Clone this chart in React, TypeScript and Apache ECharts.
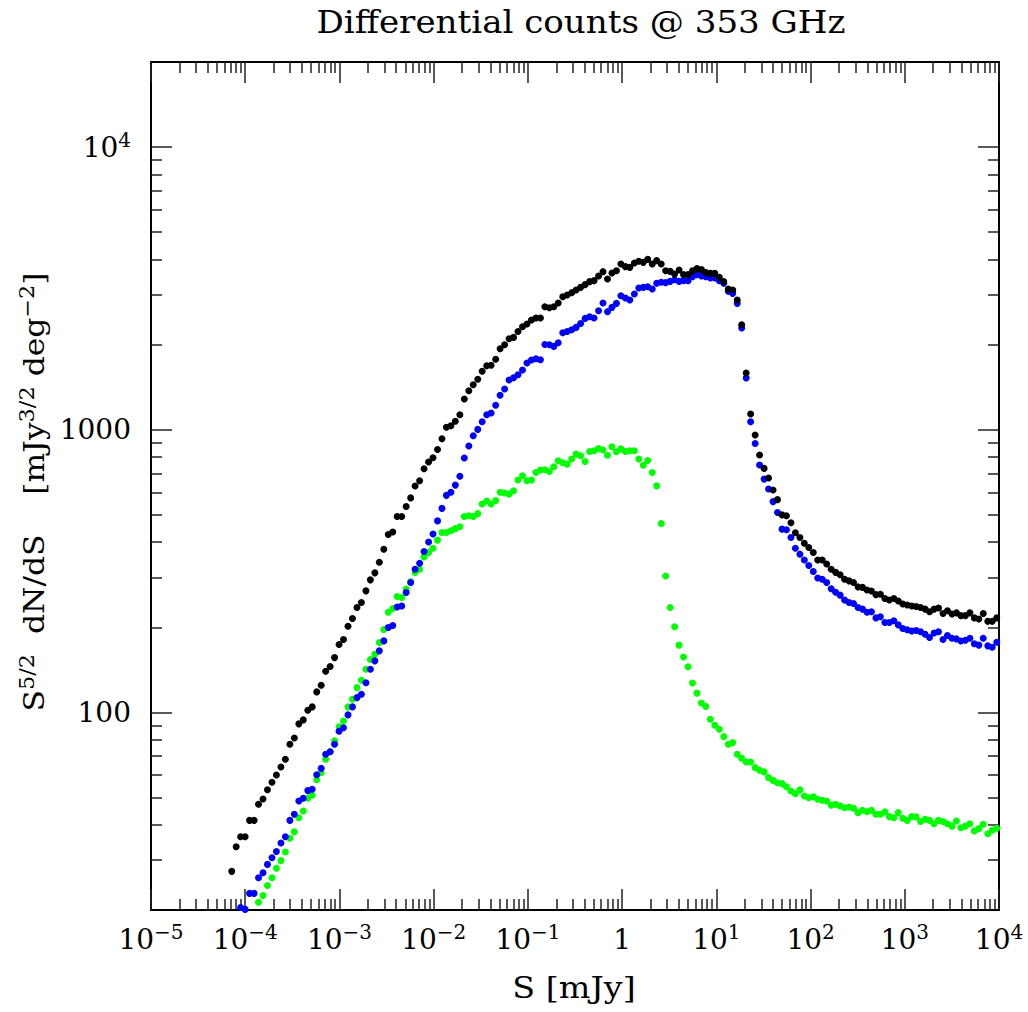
import React, { useEffect, useRef } from 'react';
import * as echarts from 'echarts';

const FONT = 'DejaVu Serif';
const X_MIN = 1e-5;
const X_MAX = 1e4;
const Y_MIN = 20;
const Y_MAX = 2e4;

// log10 of flux-density bin centres [mJy]
const logS = [
  -4.143, -4.096, -4.049, -4.001, -3.954, -3.906, -3.859, -3.811, -3.764, -3.716,
  -3.669, -3.621, -3.574, -3.526, -3.479, -3.431, -3.384, -3.336, -3.289, -3.241,
  -3.194, -3.146, -3.099, -3.052, -3.004, -2.957, -2.909, -2.862, -2.814, -2.767,
  -2.719, -2.672, -2.624, -2.577, -2.529, -2.482, -2.434, -2.387, -2.339, -2.292,
  -2.244, -2.197, -2.149, -2.102, -2.054, -2.007, -1.959, -1.912, -1.865, -1.817,
  -1.770, -1.722, -1.675, -1.627, -1.580, -1.532, -1.485, -1.437, -1.390, -1.342,
  -1.295, -1.247, -1.200, -1.152, -1.105, -1.057, -1.010, -0.962, -0.915, -0.867,
  -0.820, -0.772, -0.725, -0.678, -0.630, -0.583, -0.535, -0.488, -0.440, -0.393,
  -0.345, -0.298, -0.250, -0.203, -0.155, -0.108, -0.060, -0.013, 0.035, 0.082,
  0.130, 0.177, 0.225, 0.272, 0.320, 0.367, 0.415, 0.462, 0.510, 0.557,
  0.605, 0.652, 0.700, 0.747, 0.794, 0.842, 0.889, 0.937, 0.984, 1.032,
  1.079, 1.127, 1.174, 1.222, 1.269, 1.317, 1.364, 1.412, 1.459, 1.507,
  1.554, 1.602, 1.649, 1.697, 1.744, 1.792, 1.839, 1.887, 1.934, 1.981,
  2.029, 2.076, 2.124, 2.171, 2.219, 2.266, 2.314, 2.361, 2.409, 2.456,
  2.504, 2.551, 2.599, 2.646, 2.694, 2.741, 2.789, 2.836, 2.884, 2.931,
  2.979, 3.026, 3.074, 3.121, 3.168, 3.216, 3.263, 3.311, 3.358, 3.406,
  3.453, 3.501, 3.548, 3.596, 3.643, 3.691, 3.738, 3.786, 3.833, 3.881,
  3.928, 3.976,
];

// S^{5/2} dN/dS, black points (all bins)
const blackCounts = [
  27.4, 33.5, 36.3, 36.3, 41.5, 41.5, 47.3, 49.4, 53.3, 56.6,
  60.1, 64.1, 68.3, 77.2, 81.2, 91.1, 94.1, 101.8, 104.6, 118.2,
  124.8, 139.9, 145.3, 156.3, 173.8, 181, 201.9, 214.8, 235, 244.7,
  269.2, 294.4, 311.7, 340, 378, 426, 435, 493, 493, 535,
  574, 632, 660, 728, 769, 796, 852, 929, 1020, 1033,
  1072, 1130, 1284, 1374, 1443, 1510, 1611, 1685, 1692, 1776,
  1935, 2000, 2099, 2122, 2228, 2315, 2367, 2446, 2486, 2486,
  2725, 2703, 2725, 2809, 2957, 2998, 3055, 3123, 3190, 3261,
  3342, 3369, 3500, 3625, 3416, 3587, 3654, 3860, 3776, 3754,
  3891, 3943, 3910, 4007, 3860, 3965, 3860, 3654, 3634, 3558,
  3675, 3538, 3538, 3654, 3715, 3685, 3596, 3575, 3575, 3460,
  3342, 3148, 3123, 2878, 2353, 1588, 1137, 958, 814, 730,
  675, 612, 566, 500, 496, 469, 432, 416, 397, 383,
  368, 346, 346, 335, 321, 313, 307, 296, 292, 288,
  278, 277, 271, 269, 261, 262, 253, 250, 253, 248,
  242, 240, 238, 237, 235, 232, 227, 232, 234, 224,
  229, 223, 225, 220, 220, 225, 216, 214, 224, 210,
  210, 216,
];

// blue points start at bin index 2
const BLUE_START = 2;
const blueCounts = [
  20.4, 20.1, 22.9, 22.9, 26.0, 27.1, 29.0, 30.6, 32.2, 34.5,
  36.3, 41.5, 43.6, 48.6, 49.7, 52.9, 53.5, 60.2, 63.4, 71.1,
  72.6, 77.2, 85.8, 88.3, 98.0, 104.6, 112.8, 116.0, 127.4, 142.2,
  152.2, 165.1, 179.1, 199.6, 202.9, 236, 238, 265.5, 288, 321,
  337, 371, 401, 428, 476, 527, 586, 601, 637, 685,
  795, 876, 952, 1003, 1067, 1130, 1147, 1221, 1325, 1394,
  1499, 1528, 1565, 1627, 1722, 1765, 1784, 1769, 2004, 1999,
  1972, 2032, 2205, 2228, 2259, 2302, 2378, 2477, 2512, 2486,
  2638, 2809, 2617, 2710, 2800, 2981, 2926, 2878, 3023, 3174,
  3190, 3208, 3148, 3296, 3323, 3315, 3350, 3396, 3350, 3369,
  3369, 3480, 3538, 3500, 3480, 3443, 3443, 3369, 3296, 3088,
  3038, 2800, 2291, 1524, 1067, 894, 750, 669, 617, 557,
  510, 445, 443, 416, 381, 363, 346, 331, 315, 299,
  296, 288, 274, 266, 260, 250, 245, 243, 235, 232,
  226, 227, 216, 218, 208, 208, 211, 204, 198, 196,
  194, 195, 193, 189, 184, 191, 193, 181, 187, 183,
  182, 179, 180, 183, 175, 173, 183, 172, 170, 177,
];

// green points start at bin index 6
const GREEN_START = 6;
const greenCounts = [
  21.3, 22.5, 24.4, 26.0, 28.1, 29.9, 32.1, 35.9, 37.8, 42.4,
  44.8, 49.7, 50.9, 57.8, 61.2, 68.3, 72.6, 79.3, 88.9, 93.3,
  104.6, 111.3, 122.4, 130.0, 142.2, 153.8, 160.7, 176.7, 196.4, 226,
  233, 257, 255, 273, 290, 313, 321, 355, 368, 381,
  407, 433, 433, 439, 447, 454, 493, 496, 493, 505,
  546, 560, 546, 562, 601, 597, 592, 608, 664, 688,
  660, 664, 706, 720, 722, 712, 740, 777, 764, 756,
  788, 820, 809, 772, 838, 843, 859, 848, 812, 871,
  836, 856, 838, 843, 843, 788, 749, 779, 706, 633,
  466, 304, 235, 201, 173, 157, 145, 127, 117, 108,
  105, 94.6, 90.1, 87.2, 82.1, 77.2, 78.2, 71.1, 68.8, 66.8,
  66.8, 63.8, 62.4, 61.6, 58.8, 57.5, 56.4, 56.0, 54.6, 52.7,
  51.6, 53.2, 50.6, 49.9, 50.3, 49.3, 48.9, 48.6, 47.0, 47.3,
  46.7, 46.0, 46.3, 45.8, 44.2, 45.1, 44.5, 45.1, 43.6, 43.6,
  44.5, 42.8, 42.4, 44.2, 42.2, 41.5, 42.8, 42.7, 41.1, 41.9,
  41.5, 40.4, 41.5, 41.1, 40.4, 39.6, 41.3, 39.1, 39.6, 40.4,
  38.1, 38.8, 40.2, 37.2, 38.3, 38.9,
];

// axis ticks
const xMajorTicks = [1e-5, 1e-4, 1e-3, 1e-2, 1e-1, 1, 10, 100, 1000, 1e4];
const yMajorTicks = [100, 1000, 10000];
const mantissas = [2, 3, 4, 5, 6, 7, 8, 9];
const xDecades = [1e-5, 1e-4, 1e-3, 1e-2, 1e-1, 1, 10, 100, 1000];
const yDecades = [10, 100, 1000];

const xMinorTicks: number[] = [];
xDecades.forEach((d) => mantissas.forEach((m) => xMinorTicks.push(m * d)));
const yMinorTicks: number[] = [];
yDecades.forEach((d) => mantissas.forEach((m) => { const v = m * d; if (v > Y_MIN && v < Y_MAX) yMinorTicks.push(v); }));

const toPoints = (vals: number[], start: number) =>
  vals.map((v, j) => [Math.pow(10, logS[j + start]), v]);

const richLabel = {
  b: { fontFamily: FONT, fontSize: 28, color: '#000', lineHeight: 34 },
  s: { fontFamily: FONT, fontSize: 20, color: '#000', verticalAlign: 'top', lineHeight: 22 },
};

const xLabel = (v: number) => {
  const e = Math.round(Math.log10(v));
  if (e === 0) return '{b|1}';
  return '{b|10}{s|' + (e < 0 ? '\u2212' + -e : String(e)) + '}';
};
const yLabel = (v: number) => {
  const e = Math.round(Math.log10(v));
  if (e >= 4) return '{b|10}{s|' + e + '}';
  return '{b|' + Math.round(v) + '}';
};

const tickStyle = { color: '#222', width: 1.5 };

function makeX(position: string, ticks: number[], len: number, line: boolean, labels: boolean) {
  return {
    type: 'log',
    logBase: 10,
    min: X_MIN,
    max: X_MAX,
    position,
    axisLine: { show: line, onZero: false, lineStyle: { color: '#000', width: 2 } },
    axisTick: { show: true, inside: true, length: len, customValues: ticks, lineStyle: tickStyle },
    axisLabel: labels
      ? {
          show: true,
          customValues: xMajorTicks,
          formatter: xLabel,
          rich: richLabel,
          margin: 12,
          showMinLabel: true,
          showMaxLabel: true,
          hideOverlap: false,
        }
      : { show: false },
    splitLine: { show: false },
    minorTick: { show: false },
    minorSplitLine: { show: false },
  };
}

function makeY(position: string, ticks: number[], len: number, line: boolean, labels: boolean) {
  return {
    type: 'log',
    logBase: 10,
    min: Y_MIN,
    max: Y_MAX,
    position,
    axisLine: { show: line, onZero: false, lineStyle: { color: '#000', width: 2 } },
    axisTick: { show: true, inside: true, length: len, customValues: ticks, lineStyle: tickStyle },
    axisLabel: labels
      ? {
          show: true,
          customValues: yMajorTicks,
          formatter: yLabel,
          rich: richLabel,
          margin: 20,
          hideOverlap: false,
        }
      : { show: false },
    splitLine: { show: false },
    minorTick: { show: false },
    minorSplitLine: { show: false },
  };
}

export default function App() {
  const ref = useRef<HTMLDivElement>(null);

  useEffect(() => {
    if (!ref.current) return;
    const chart = echarts.init(ref.current, null, { renderer: 'svg' });

    const scatter = (name: string, color: string, data: number[][]) => ({
      name,
      type: 'scatter',
      xAxisIndex: 0,
      yAxisIndex: 0,
      symbol: 'circle',
      symbolSize: 7,
      itemStyle: { color, opacity: 1 },
      emphasis: { disabled: true },
      clip: true,
      data,
    });

    chart.setOption({
      animation: false,
      backgroundColor: '#fff',
      grid: { left: 151, right: 29, top: 62, bottom: 102, outerBoundsMode: 'none', containLabel: false },
      xAxis: [
        makeX('bottom', xMajorTicks, 21, true, true),
        makeX('bottom', xMinorTicks, 11, false, false),
        makeX('top', xMajorTicks, 21, true, false),
        makeX('top', xMinorTicks, 11, false, false),
      ],
      yAxis: [
        makeY('left', yMajorTicks, 21, true, true),
        makeY('left', yMinorTicks, 11, false, false),
        makeY('right', yMajorTicks, 21, true, false),
        makeY('right', yMinorTicks, 11, false, false),
      ],
      series: [
        scatter('green', '#00ff00', toPoints(greenCounts, GREEN_START)),
        scatter('blue', '#0000ff', toPoints(blueCounts, BLUE_START)),
        scatter('black', '#000000', toPoints(blackCounts, 0)),
      ],
      graphic: [
        {
          type: 'text',
          x: 581,
          y: 23,
          scaleX: 1.1,
          silent: true,
          style: {
            text: 'Differential counts @ 353 GHz',
            font: '31px "DejaVu Serif"',
            fill: '#000',
            textAlign: 'center',
            align: 'center',
            textVerticalAlign: 'middle',
            verticalAlign: 'middle',
          },
        },
        {
          type: 'text',
          x: 574,
          y: 988,
          scaleX: 1.15,
          silent: true,
          style: {
            text: 'S [mJy]',
            font: '29px "DejaVu Serif"',
            fill: '#000',
            textAlign: 'center',
            align: 'center',
            textVerticalAlign: 'middle',
            verticalAlign: 'middle',
          },
        },
        {
          type: 'text',
          x: 34,
          y: 492,
          rotation: Math.PI / 2,
          scaleX: 1.12,
          silent: true,
          style: {
            text: '{n|S}{s|5/2}{n|  dN/dS    [mJy}{s|3/2}{n| deg}{s|\u22122}{n|]}',
            rich: {
              n: { fontFamily: FONT, fontSize: 28, fill: '#000', color: '#000', lineHeight: 34 },
              s: { fontFamily: FONT, fontSize: 20, fill: '#000', color: '#000', verticalAlign: 'top', lineHeight: 22 },
            },
            textAlign: 'center',
            align: 'center',
            textVerticalAlign: 'middle',
            verticalAlign: 'middle',
          },
        },
      ],
    });

    return () => chart.dispose();
  }, []);

  return (
    <div
      ref={ref}
      style={{ position: 'absolute', left: 0, top: 0, width: 1028, height: 1012, background: '#fff' }}
    />
  );
}
